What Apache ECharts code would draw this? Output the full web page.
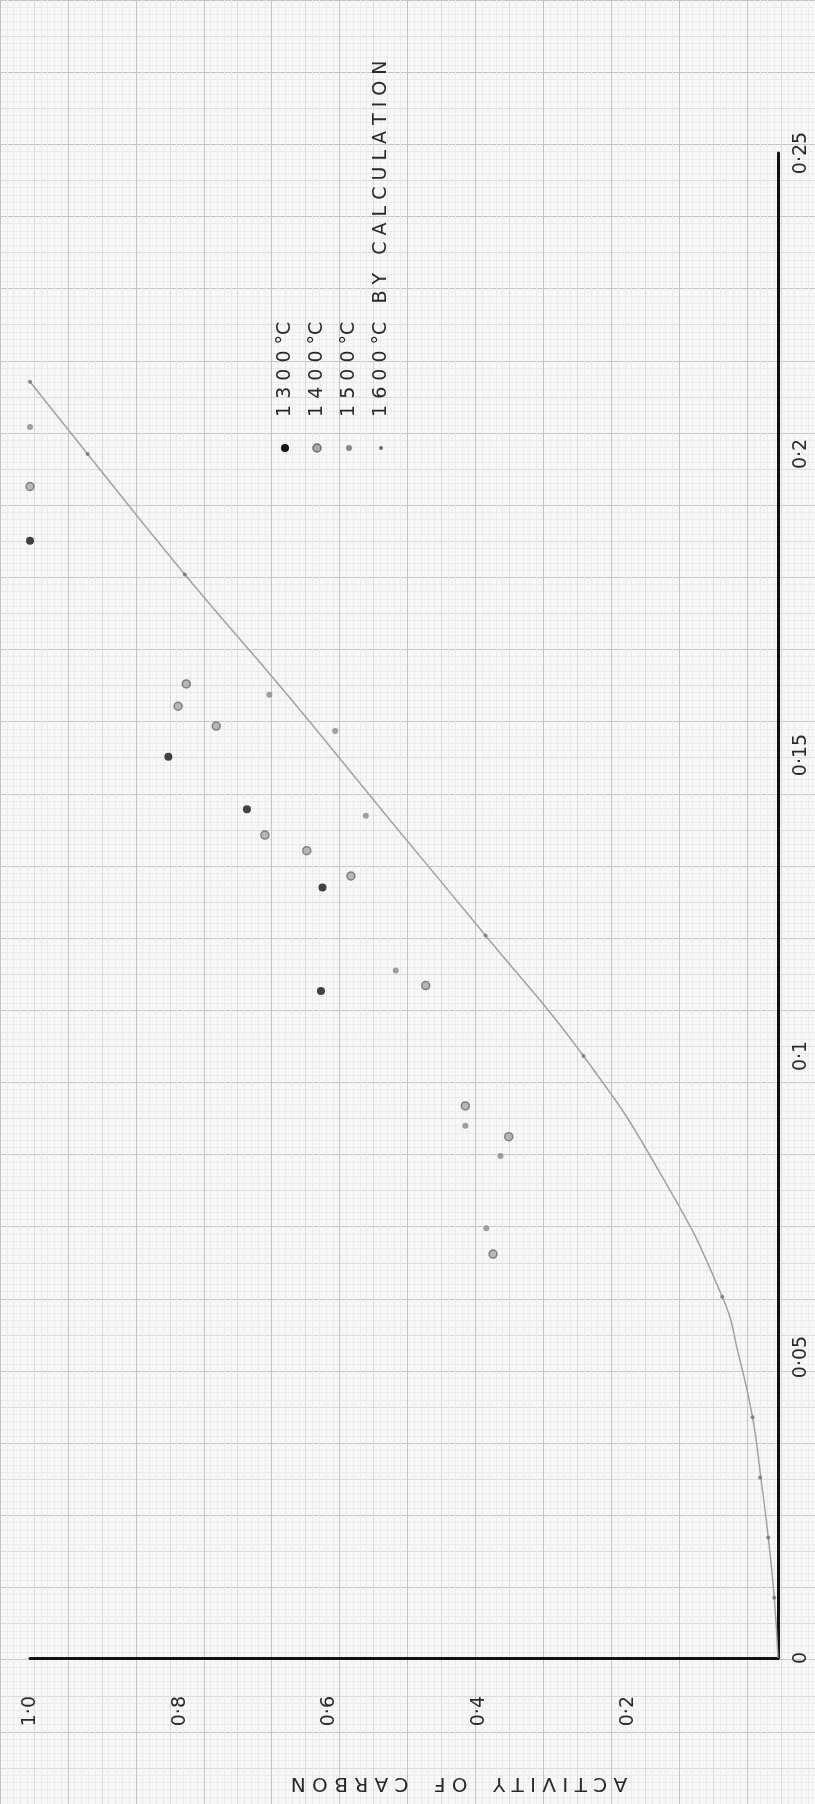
<!DOCTYPE html>
<html><head><meta charset="utf-8">
<script src="https://cdn.jsdelivr.net/npm/echarts@6/dist/echarts.min.js"></script>
<style>html,body{margin:0;padding:0;background:#f7f7f5}#c{width:815px;height:1804px}</style>
</head><body><div id="c"></div>
<script>
// ---- tick labels ----
const carbonTickValues = [0, 0.05, 0.1, 0.15, 0.2, 0.25];
const carbonTickLabels = ['0', '0·05', '0·1', '0·15', '0·2', '0·25'];
const activityTickValues = [0.2, 0.4, 0.6, 0.8, 1.0];
const activityTickLabels = ['0·2', '0·4', '0·6', '0·8', '1·0'];

// ---- measured points: carbon (%) and activity of carbon ----
const carbon1300 = [0.1856, 0.1497, 0.1410, 0.1280, 0.1108];
const activity1300 = [1.0, 0.815, 0.710, 0.609, 0.611];

const carbon1400 = [0.1946, 0.1618, 0.1581, 0.1548, 0.1367, 0.1341, 0.1299, 0.1117, 0.0917, 0.0866, 0.0671];
const activity1400 = [1.0, 0.791, 0.802, 0.751, 0.686, 0.630, 0.571, 0.471, 0.418, 0.360, 0.381];

const carbon1500 = [0.2045, 0.1600, 0.1540, 0.1399, 0.1142, 0.0884, 0.0834, 0.0714];
const activity1500 = [1.0, 0.680, 0.592, 0.551, 0.511, 0.418, 0.371, 0.390];

// 1600 °C calculated curve (path)
const carbonCalcLine = [0, 0.01, 0.02, 0.03, 0.04, 0.05, 0.06, 0.08, 0.10, 0.12, 0.14, 0.16, 0.18, 0.20, 0.212];
const activityCalcLine = [0, 0.005, 0.013, 0.023, 0.034, 0.052, 0.0745, 0.155, 0.26, 0.391, 0.524, 0.656, 0.793, 0.923, 1.0];
// calculated points marked on the curve
const carbonCalcPts = [0.01, 0.02, 0.03, 0.04, 0.06, 0.10, 0.12, 0.18, 0.20, 0.212];
const activityCalcPts = [0.005, 0.013, 0.024, 0.034, 0.0745, 0.26, 0.391, 0.793, 0.923, 1.0];

const legendNames = ['1 3 0 0 °C', '1 4 0 0 °C', '1 5 0 0 °C', '1 6 0 0 °C   B Y   C A L C U L A T I O N'];
const axisTitle = 'A C T I V I T Y    O F    C A R B O N';

const FONT = '"DejaVu Sans", sans-serif';
const zip = (xs, ys) => xs.map((x, i) => [x, ys[i]]);
const lookup = (vals, labels) => v => {
  const i = vals.findIndex(t => Math.abs(t - v) < 1e-6);
  return i >= 0 ? labels[i] : '';
};

const chart = echarts.init(document.getElementById('c'), null, {renderer: 'canvas'});

const paperAxisX = (interval, color, minor) => ({
  type: 'value', min: -0.1, max: 1.1, interval: interval,
  axisLine: {show: false}, axisTick: {show: false}, axisLabel: {show: false},
  splitLine: {show: true, lineStyle: {color: color, width: 1}},
  minorTick: {show: false, splitNumber: 5},
  minorSplitLine: {show: !!minor, lineStyle: {color: minor || '#eee', width: 1}}
});
const paperAxisY = (interval, color, minor) => ({
  type: 'value', min: -0.025, max: 0.2875, interval: interval,
  axisLine: {show: false}, axisTick: {show: false}, axisLabel: {show: false},
  splitLine: {show: true, lineStyle: {color: color, width: 1}},
  minorTick: {show: false, splitNumber: 5},
  minorSplitLine: {show: !!minor, lineStyle: {color: minor || '#eee', width: 1}}
});

const paperRect = {left: -44.8, right: -37.8, top: -72.75, bottom: -4.5};

const legendX = [285, 317, 349, 381];
const legendSymY = 448;

const option = {
  animation: false,
  backgroundColor: '#f7f7f5',
  grid: [
    {left: 30, right: 37, top: 153, bottom: 146, containLabel: false},
    Object.assign({}, paperRect),
    Object.assign({}, paperRect)
  ],
  xAxis: [
    {
      gridIndex: 0, type: 'value', min: 0, max: 1, interval: 0.2, inverse: true, position: 'bottom',
      axisLine: {show: true, onZero: false, lineStyle: {color: '#111', width: 3}},
      axisTick: {show: false}, splitLine: {show: false},
      axisLabel: {rotate: 90, margin: 38, fontSize: 19, color: '#2a2a2a', fontFamily: FONT,
        formatter: lookup(activityTickValues, activityTickLabels)}
    },
    Object.assign({gridIndex: 1}, paperAxisX(0.05, '#dadada', '#ebebeb')),
    Object.assign({gridIndex: 2}, paperAxisX(0.1, '#c4c4c4', null))
  ],
  yAxis: [
    {
      gridIndex: 0, type: 'value', min: 0, max: 0.25, interval: 0.05, position: 'right',
      axisLine: {show: true, onZero: false, lineStyle: {color: '#111', width: 3}},
      axisTick: {show: false}, splitLine: {show: false},
      axisLabel: {rotate: 90, margin: 14, fontSize: 19, color: '#2a2a2a', fontFamily: FONT,
        formatter: lookup(carbonTickValues, carbonTickLabels)}
    },
    Object.assign({gridIndex: 1}, paperAxisY(0.00625, '#dadada', '#ebebeb')),
    Object.assign({gridIndex: 2}, paperAxisY(0.0125, '#c4c4c4', null))
  ],
  series: [
    {
      name: 'calc line', type: 'line', xAxisIndex: 0, yAxisIndex: 0,
      data: zip(activityCalcLine, carbonCalcLine), smooth: 0.5, symbol: 'none',
      lineStyle: {color: '#a2a2a2', width: 1.5}, z: 3
    },
    {
      name: '1600', type: 'scatter', xAxisIndex: 0, yAxisIndex: 0,
      data: zip(activityCalcPts, carbonCalcPts), symbolSize: 4,
      itemStyle: {color: '#707070'}, z: 4
    },
    {
      name: '1500', type: 'scatter', xAxisIndex: 0, yAxisIndex: 0,
      data: zip(activity1500, carbon1500), symbolSize: 6,
      itemStyle: {color: '#8a8a8a'}, z: 5
    },
    {
      name: '1400', type: 'scatter', xAxisIndex: 0, yAxisIndex: 0,
      data: zip(activity1400, carbon1400), symbolSize: 8,
      itemStyle: {color: '#a6a6a6', borderColor: '#6c6c6c', borderWidth: 1.5}, z: 5
    },
    {
      name: '1300', type: 'scatter', xAxisIndex: 0, yAxisIndex: 0,
      data: zip(activity1300, carbon1300), symbolSize: 8,
      itemStyle: {color: '#141414'}, z: 6
    }
  ],
  graphic: [
    {type: 'circle', shape: {cx: legendX[0], cy: legendSymY, r: 4}, style: {fill: '#141414'}, z: 10},
    {type: 'circle', shape: {cx: legendX[1], cy: legendSymY, r: 4}, style: {fill: '#a6a6a6', stroke: '#6c6c6c', lineWidth: 1.5}, z: 10},
    {type: 'circle', shape: {cx: legendX[2], cy: legendSymY, r: 3}, style: {fill: '#8a8a8a'}, z: 10},
    {type: 'circle', shape: {cx: legendX[3], cy: legendSymY, r: 2}, style: {fill: '#707070'}, z: 10}
  ].concat(legendNames.map((t, i) => ({
    type: 'text', x: legendX[i], y: 417, rotation: Math.PI / 2, z: 10,
    style: {text: t, font: '19px ' + FONT, fill: '#2a2a2a',
      align: 'left', verticalAlign: 'middle', textAlign: 'left', textVerticalAlign: 'middle'}
  }))).concat([
    {
      type: 'text', x: 459, y: 1783, rotation: Math.PI, z: 10,
      style: {text: axisTitle, font: '20px ' + FONT, fill: '#2a2a2a',
        align: 'center', verticalAlign: 'middle', textAlign: 'center', textVerticalAlign: 'middle'}
    }
  ])
};
chart.setOption(option);
</script>
</body></html>
